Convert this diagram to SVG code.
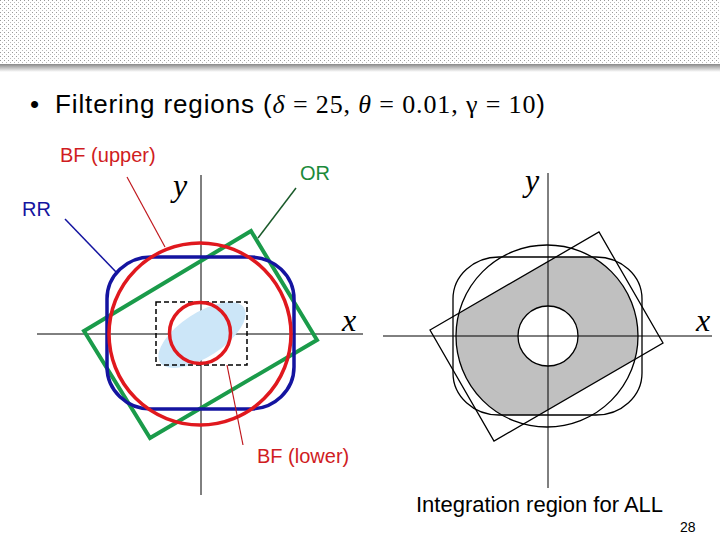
<svg xmlns="http://www.w3.org/2000/svg" width="720" height="540" viewBox="0 0 720 540">
<style>
.s{font-family:"Liberation Sans",Arial,sans-serif}
.m{font-family:"Liberation Serif","Times New Roman",serif}
.ax{stroke:#000;stroke-width:1;fill:none}
.bk{stroke:#000;stroke-width:1.3;fill:none}
</style>
<defs>
<pattern id="dots" width="4" height="4" patternUnits="userSpaceOnUse">
<rect x="0" y="0" width="1" height="1" fill="#999"/>
<rect x="2" y="2" width="1" height="1" fill="#bbb"/>
</pattern>
<linearGradient id="sh" x1="0" y1="0" x2="0" y2="1">
<stop offset="0" stop-color="#888"/><stop offset="1" stop-color="#fff"/>
</linearGradient>
<clipPath id="cpoly"><polygon points="430,330 599,232 663,343 494,441"/></clipPath>
<clipPath id="crr" clip-path="url(#cpoly)"><rect x="453" y="257" width="189" height="158" rx="46" ry="42"/></clipPath>
<mask id="hole"><rect width="720" height="540" fill="#fff"/><circle cx="548" cy="336" r="30" fill="#000"/></mask>
</defs>
<rect width="720" height="540" fill="#fff"/>
<rect x="0" y="0" width="720" height="64" fill="url(#dots)"/>
<rect x="0" y="64" width="720" height="8" fill="url(#sh)"/>
<g id="title">
<text x="30" y="113" class="s" font-size="26">•</text>
<text x="55" y="113" class="s" font-size="26" textLength="490" lengthAdjust="spacing">Filtering regions (<tspan class="m" font-style="italic">δ</tspan><tspan class="m"> = 25, </tspan><tspan class="m" font-style="italic">θ</tspan><tspan class="m"> = 0.01, γ = 10</tspan>)</text>
</g>
<g id="left">
<line class="ax" x1="201" y1="175" x2="201" y2="495"/>
<line class="ax" x1="37" y1="334" x2="363" y2="334"/>
<ellipse cx="202" cy="335" rx="50" ry="22" transform="rotate(-33 202 335)" fill="#cce6f8"/>
<rect x="156" y="302" width="91" height="63" fill="none" stroke="#000" stroke-width="1.5" stroke-dasharray="5,3"/>
<polygon points="84,331 251,231 317,340 150,438" fill="none" stroke="#1a9b4a" stroke-width="4"/>
<rect x="107" y="257" width="187" height="152" rx="44" ry="42" fill="none" stroke="#1414a0" stroke-width="3.5"/>
<circle cx="200" cy="334" r="91" fill="none" stroke="#e0181e" stroke-width="3.5"/>
<circle cx="200" cy="333" r="30.5" fill="none" stroke="#e0181e" stroke-width="3.5"/>
<text x="173" y="196" class="m" font-style="italic" font-size="32">y</text>
<text x="342" y="331" class="m" font-style="italic" font-size="32">x</text>
</g>
<g id="connectors">
<line x1="65" y1="219" x2="117" y2="273" stroke="#1414a0" stroke-width="1.5"/>
<line x1="127" y1="177" x2="165" y2="247" stroke="#c0181e" stroke-width="1.2"/>
<line x1="296" y1="188" x2="258" y2="238" stroke="#1a5a2a" stroke-width="1.5"/>
<line x1="227" y1="365" x2="243" y2="445" stroke="#c0181e" stroke-width="1.2"/>
</g>
<g id="labels">
<text x="60" y="162" class="s" font-size="20" fill="#d01c22">BF (upper)</text>
<text x="22" y="216" class="s" font-size="20" fill="#1414a0">RR</text>
<text x="300" y="180" class="s" font-size="20" fill="#1a8a3a">OR</text>
<text x="257" y="463" class="s" font-size="20" fill="#d01c22">BF (lower)</text>
</g>
<g id="right">
<g clip-path="url(#crr)"><circle cx="547" cy="336" r="91" fill="#c0c0c0" mask="url(#hole)"/></g>
<line class="ax" stroke="#555" x1="548" y1="173" x2="548" y2="488"/>
<line class="ax" stroke="#555" x1="383" y1="336" x2="712" y2="336"/>
<circle class="bk" cx="547" cy="336" r="91"/>
<rect class="bk" x="453" y="257" width="189" height="158" rx="46" ry="42"/>
<polygon class="bk" points="430,330 599,232 663,343 494,441"/>
<circle class="bk" cx="548" cy="336" r="30" fill="#fff"/>
<text x="525" y="191" class="m" font-style="italic" font-size="32">y</text>
<text x="696" y="331" class="m" font-style="italic" font-size="32">x</text>
</g>
<text x="416" y="512" class="s" font-size="22">Integration region for ALL</text>
<text x="680" y="532" class="s" font-size="14">28</text>
</svg>
